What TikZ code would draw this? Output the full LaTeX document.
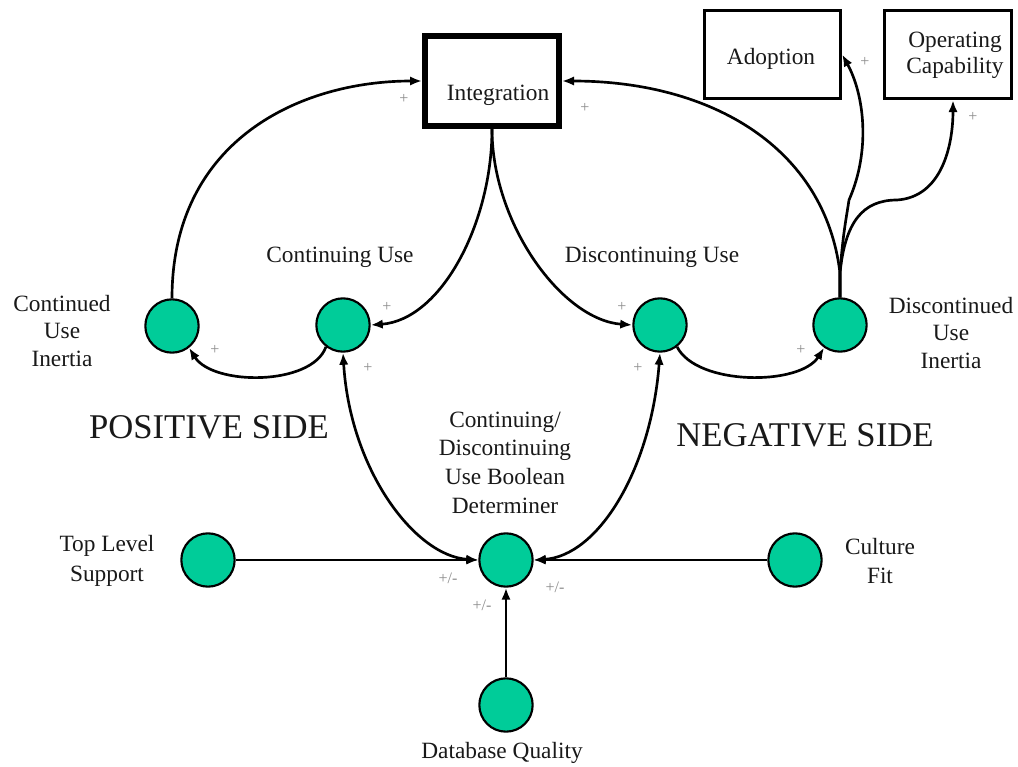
\documentclass[tikz,border=0pt]{standalone}
\usepackage{fontspec}
\setmainfont{Liberation Serif}
\usetikzlibrary{arrows.meta,calc}
\definecolor{nodegreen}{RGB}{0,204,153}
\definecolor{pluscol}{RGB}{140,140,140}
\definecolor{txt}{RGB}{25,25,25}
\begin{document}
\begin{tikzpicture}[x=0.75pt,y=-0.75pt,
  var/.style={circle,draw=black,line width=1.6pt,fill=nodegreen,minimum size=40pt,inner sep=0pt},
  stock/.style={rectangle,draw=black,line width=2.5pt,inner sep=0pt,font=\fontsize{17.5}{20}\selectfont,align=center,text=txt},
  lbl/.style={font=\fontsize{17.5}{20.5}\selectfont,align=center,text=txt,inner sep=0pt},
  big/.style={font=\fontsize{26}{30}\selectfont,text=txt,inner sep=0pt},
  pol/.style={font=\fontsize{12}{14}\selectfont,text=pluscol,inner sep=0pt},
  link/.style={line width=2pt,-{Latex[length=9pt,width=7pt]}},
  dlink/.style={line width=2pt,{Latex[length=9pt,width=7pt]}-{Latex[length=9pt,width=7pt]}},
  thin link/.style={line width=1.5pt,-{Latex[length=9pt,width=7pt]}},
]
\useasboundingbox[fill=white] (0,0) rectangle (1018,767);

% stocks
\node[stock,line width=4.5pt,minimum width=100.5pt,minimum height=67.5pt] (integ) at (492,81) {};
\node[lbl] (integtxt) at (498,95) {Integration};
\node[stock,minimum width=102pt,minimum height=66pt] (adopt) at (772.5,54.5) {};
\node[lbl] (adopttxt) at (771,59) {Adoption};
\node[stock,minimum width=95.25pt,minimum height=66pt] (oc) at (948,54.5) {};
\node[lbl,font=\fontsize{17.5}{19.5}\selectfont] (octxt) at (955,55) {Operating\\Capability};

% variables
\node[var] (cui) at (172,326) {};
\node[var] (cu) at (343,325) {};
\node[var] (du) at (660,325) {};
\node[var] (dui) at (840,325) {};
\node[var] (b) at (506,560) {};
\node[var] (tls) at (208,560) {};
\node[var] (cf) at (795,560) {};
\node[var] (dq) at (506,705) {};

% labels
\node[lbl] (cuil) at (62,331) {Continued\\Use\\Inertia};
\node[lbl] (cul) at (340,257) {Continuing Use};
\node[lbl] (dul) at (652,257) {Discontinuing Use};
\node[lbl] (duil) at (951,333) {Discontinued\\Use\\Inertia};
\node[lbl,font=\fontsize{17.5}{21.5}\selectfont] (bl) at (505,462.5) {Continuing/\\Discontinuing\\Use Boolean\\Determiner};
\node[lbl,font=\fontsize{17.5}{22}\selectfont] (tlsl) at (107,561) {Top Level\\Support};
\node[lbl,font=\fontsize{17.5}{22}\selectfont] (cfl) at (880,561) {Culture\\Fit};
\node[lbl] (dql) at (502,753) {Database Quality};
\node[big] (pos) at (209,427) {POSITIVE SIDE};
\node[big] (neg) at (805,435) {NEGATIVE SIDE};

% connectors
\coordinate (split) at (840,273);
\draw[link] (cui.north) .. controls +(0,-158) and +(-122,0) .. (integ.west);
\draw[link] (dui.north) -- (split) .. controls +(-15,-125) and +(150,0) .. (integ.east);
\draw[link] (dui.north) -- (split) .. controls +(3,-40) and +(-3,20) .. (849,200)
  .. controls +(22,-50) and +(22,40) .. (adopt.east);
\draw[link] (dui.north) -- (split) .. controls +(5,-50) and +(-35,0) .. (897,200)
  .. controls +(45,-3) and +(0,45) .. ($(oc.south)+(5,0)$);
\draw[link] (integ.south) .. controls +(0,95) and +(70,-5) .. (cu.east);
\draw[link] (integ.south) .. controls +(0,95) and +(-70,-5) .. (du.west);
\draw[link] (cu.232) .. controls (312,386) and (213,386) .. (cui.308);
\draw[link] (du.308) .. controls (697,386) and (800,386) .. (dui.235);
\draw[dlink] (cu.south) .. controls (350,470) and (415,556) .. (b.west);
\draw[dlink] (du.south) .. controls (651,470) and (598,556) .. (b.east);
\draw[thin link] (tls.east) -- (b.west);
\draw[thin link] (cf.west) -- (b.east);
\draw[link] (dq.north) -- (b.south);

% polarities
\node[pol] (p1) at (404,99) {+};
\node[pol] (p2) at (585,108) {+};
\node[pol] (p3) at (865,62) {+};
\node[pol] (p4) at (973,117) {+};
\node[pol] (p5) at (387,307) {+};
\node[pol] (p6) at (622,307) {+};
\node[pol] (p7) at (215,350) {+};
\node[pol] (p8) at (801,350) {+};
\node[pol] (p9) at (368,368) {+};
\node[pol] (p10) at (638,368) {+};
\node[pol] (p11) at (448,578) {+/-};
\node[pol] (p12) at (555,587) {+/-};
\node[pol] (p13) at (482,605) {+/-};
\end{tikzpicture}
\end{document}
